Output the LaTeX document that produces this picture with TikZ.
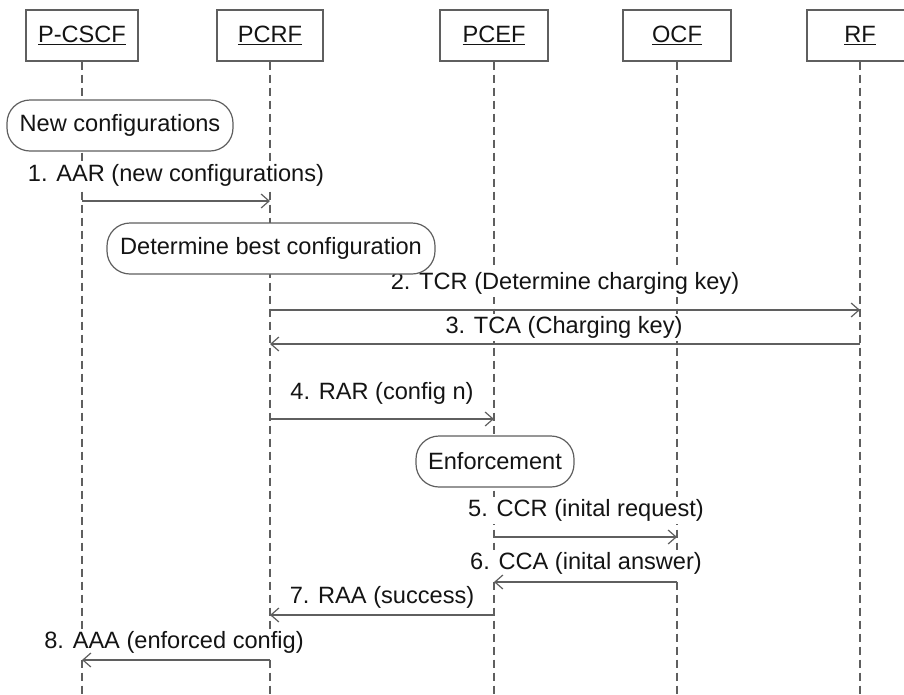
\documentclass[tikz,border=0pt]{standalone}
\usepackage{fontspec}
\setmainfont{Liberation Sans}
\usetikzlibrary{arrows.meta}
\definecolor{linegray}{RGB}{95,95,95}
\definecolor{txt}{RGB}{20,20,20}
\begin{document}
\begin{tikzpicture}[x=1pt,y=-1pt,
  font=\fontsize{23.6}{28}\selectfont,
  entity/.style={draw=linegray, fill=white, line width=1.2pt, minimum height=51pt, inner sep=0pt, text=txt},
  lifeline/.style={draw=linegray, line width=1.2pt, dash pattern=on 8pt off 5pt},
  action/.style={draw=linegray, fill=white, rounded corners=23pt, line width=1.2pt, minimum height=51pt, inner sep=0pt, text=txt},
  msg/.style={draw=linegray, line width=1.2pt, -{Straight Barb[length=8pt,width=14pt]}},
  lbl/.style={inner sep=2.5pt, fill=white, text=txt}]
\useasboundingbox (0,0) rectangle (904,694);
% lifeline heads
\node[entity, minimum width=112pt] (pcscf) at (82,35.5) {\underline{P-CSCF}};
\node[entity, minimum width=106pt] (pcrf) at (270,35.5) {\underline{PCRF}};
\node[entity, minimum width=108pt] (pcef) at (494,35.5) {\underline{PCEF}};
\node[entity, minimum width=108pt] (ocf) at (677,35.5) {\underline{OCF}};
\node[entity, minimum width=106pt] (rf) at (860,35.5) {\underline{RF}};
% lifeline ends
\coordinate (pcscfE) at (82,694);
\coordinate (pcrfE) at (270,694);
\coordinate (pcefE) at (494,694);
\coordinate (ocfE) at (677,694);
\coordinate (rfE) at (860,694);
\draw[lifeline] (pcscf) -- (pcscfE);
\draw[lifeline] (pcrf) -- (pcrfE);
\draw[lifeline] (pcef) -- (pcefE);
\draw[lifeline] (ocf) -- (ocfE);
\draw[lifeline] (rf) -- (rfE);
% labels
\node[lbl] (l1) at (176,175) {1. AAR (new configurations)};
\node[lbl] (l2) at (565,283) {2. TCR (Determine charging key)};
\node[lbl] (l3) at (564,327) {3. TCA (Charging key)};
\node[lbl] (l4) at (382,393) {4. RAR (config n)};
\node[lbl] (l5) at (586,510) {5. CCR (inital request)};
\node[lbl] (l6) at (586,563) {6. CCA (inital answer)};
\node[lbl] (l7) at (382,597) {7. RAA (success)};
\node[lbl] (l8) at (174,642) {8. AAA (enforced config)};
% actions
\node[action, minimum width=226pt] (newconf) at (120,125.5) {New configurations};
\node[action, minimum width=328pt] (best) at (271,248.5) {Determine best configuration};
\node[action, minimum width=158pt] (enf) at (495,461.5) {Enforcement};
% message end points
\coordinate (m1a) at (82,201);  \coordinate (m1b) at (270,201);
\coordinate (m2a) at (270,310); \coordinate (m2b) at (860,310);
\coordinate (m3a) at (860,344); \coordinate (m3b) at (270,344);
\coordinate (m4a) at (270,419); \coordinate (m4b) at (494,419);
\coordinate (m5a) at (494,537); \coordinate (m5b) at (677,537);
\coordinate (m6a) at (677,582); \coordinate (m6b) at (494,582);
\coordinate (m7a) at (494,615); \coordinate (m7b) at (270,615);
\coordinate (m8a) at (270,660); \coordinate (m8b) at (82,660);
\draw[msg] (m1a) -- (m1b);
\draw[msg] (m2a) -- (m2b);
\draw[msg] (m3a) -- (m3b);
\draw[msg] (m4a) -- (m4b);
\draw[msg] (m5a) -- (m5b);
\draw[msg] (m6a) -- (m6b);
\draw[msg] (m7a) -- (m7b);
\draw[msg] (m8a) -- (m8b);
\end{tikzpicture}
\end{document}
